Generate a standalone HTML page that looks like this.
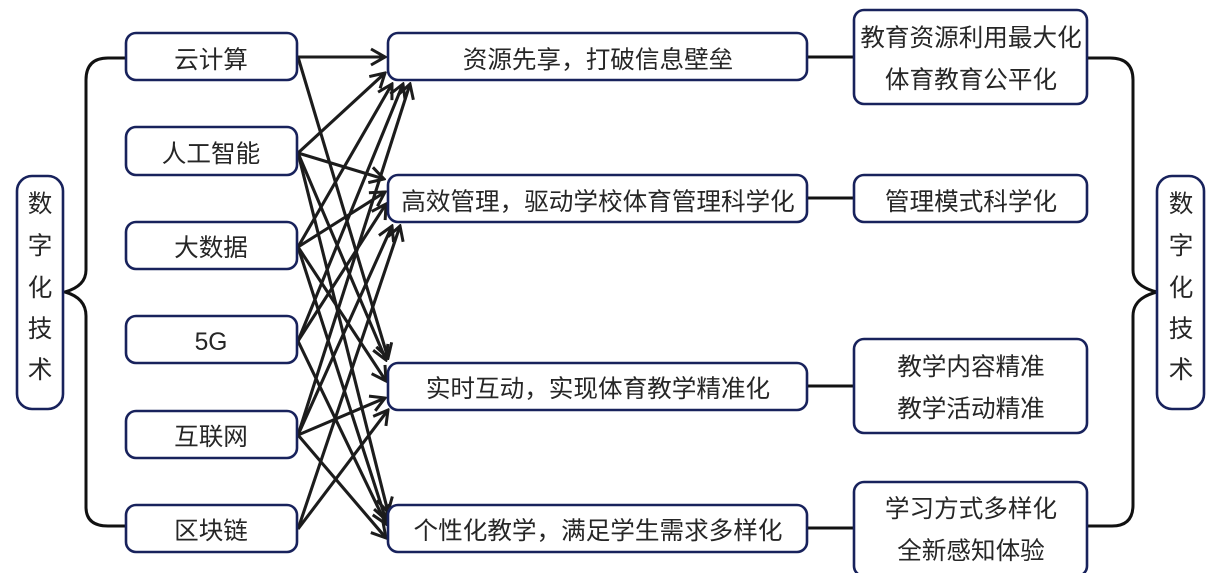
<!DOCTYPE html>
<html lang="zh">
<head>
<meta charset="utf-8">
<style>
html,body{margin:0;padding:0;background:#fff;width:1212px;height:573px;overflow:hidden}
svg{display:block}
text{font-family:"Liberation Sans","Noto Sans CJK SC",sans-serif;font-size:24.6px;fill:#262626;text-anchor:middle}
.b{fill:#fff;stroke:#18225c;stroke-width:2.6}
.c{fill:none;stroke:#111;stroke-width:3}
.a{stroke:#1c1c1c;stroke-width:3.1;fill:none}
</style>
</head>
<body>
<svg width="1212" height="573" viewBox="0 0 1212 573" xmlns="http://www.w3.org/2000/svg">
<defs>
<marker id="m" viewBox="0 0 20 20" refX="18" refY="10" markerWidth="20" markerHeight="20" markerUnits="userSpaceOnUse" orient="auto">
<path d="M4 2 L18 10 L4 18" fill="none" stroke="#1c1c1c" stroke-width="3"/>
</marker>
</defs>

<!-- brackets -->
<path class="c" d="M126 58 H108 Q86 58 86 80 V270 Q86 286 65 292 Q86 298 86 316 V507 Q86 526 108 526 H126"/>
<path class="c" d="M1087 58 H1110 Q1133 58 1133 80 V270 Q1133 286 1157 292 Q1133 298 1133 316 V505 Q1133 526 1112 526 H1087"/>
<path class="c" d="M807 57H854M807 198H854M807 386H854M807 528H854"/>

<!-- arrows -->
<g class="a">
<line x1="298" y1="57" x2="385" y2="57" marker-end="url(#m)"/>
<line x1="298" y1="57" x2="388" y2="358" marker-end="url(#m)"/>
<line x1="298" y1="153" x2="385" y2="73" marker-end="url(#m)"/>
<line x1="298" y1="153" x2="384" y2="179" marker-end="url(#m)"/>
<line x1="298" y1="153" x2="386" y2="360" marker-end="url(#m)"/>
<line x1="298" y1="153" x2="388" y2="512" marker-end="url(#m)"/>
<line x1="298" y1="247" x2="392" y2="84" marker-end="url(#m)"/>
<line x1="298" y1="247" x2="385" y2="192" marker-end="url(#m)"/>
<line x1="298" y1="247" x2="386" y2="381" marker-end="url(#m)"/>
<line x1="298" y1="247" x2="386" y2="520" marker-end="url(#m)"/>
<line x1="298" y1="341" x2="403" y2="84" marker-end="url(#m)"/>
<line x1="298" y1="341" x2="386" y2="204" marker-end="url(#m)"/>
<line x1="298" y1="341" x2="386" y2="524" marker-end="url(#m)"/>
<line x1="298" y1="435" x2="410" y2="84" marker-end="url(#m)"/>
<line x1="298" y1="435" x2="392" y2="226" marker-end="url(#m)"/>
<line x1="298" y1="435" x2="385" y2="398" marker-end="url(#m)"/>
<line x1="298" y1="435" x2="386" y2="538" marker-end="url(#m)"/>
<line x1="298" y1="529" x2="400" y2="226" marker-end="url(#m)"/>
<line x1="298" y1="529" x2="388" y2="410" marker-end="url(#m)"/>
</g>

<!-- left tall -->
<rect class="b" x="17" y="176" width="46" height="233" rx="15"/>
<text x="40" y="212">数</text><text x="40" y="254">字</text><text x="40" y="296">化</text><text x="40" y="337">技</text><text x="40" y="378">术</text>

<!-- sources -->
<rect class="b" x="126" y="33" width="171" height="47" rx="10"/><text x="211" y="68">云计算</text>
<rect class="b" x="126" y="127" width="171" height="48" rx="10"/><text x="211" y="162">人工智能</text>
<rect class="b" x="126" y="222" width="171" height="47" rx="10"/><text x="211" y="256">大数据</text>
<rect class="b" x="126" y="316" width="171" height="47" rx="10"/><text x="211" y="350">5G</text>
<rect class="b" x="126" y="411" width="171" height="47" rx="10"/><text x="211" y="445">互联网</text>
<rect class="b" x="126" y="505" width="171" height="47" rx="10"/><text x="211" y="539">区块链</text>

<!-- middle -->
<rect class="b" x="388" y="33" width="419" height="47" rx="10"/><text x="598" y="68">资源先享，打破信息壁垒</text>
<rect class="b" x="388" y="175" width="419" height="47" rx="10"/><text x="598" y="210">高效管理，驱动学校体育管理科学化</text>
<rect class="b" x="388" y="363" width="419" height="47" rx="10"/><text x="598" y="397">实时互动，实现体育教学精准化</text>
<rect class="b" x="388" y="505" width="419" height="47" rx="10"/><text x="598" y="539">个性化教学，满足学生需求多样化</text>

<!-- right -->
<rect class="b" x="854" y="10" width="233" height="94" rx="10"/><text x="971" y="46">教育资源利用最大化</text><text x="971" y="88">体育教育公平化</text>
<rect class="b" x="854" y="175" width="233" height="47" rx="10"/><text x="971" y="210">管理模式科学化</text>
<rect class="b" x="854" y="339" width="233" height="94" rx="10"/><text x="971" y="375">教学内容精准</text><text x="971" y="417">教学活动精准</text>
<rect class="b" x="854" y="482" width="233" height="94" rx="10"/><text x="971" y="517">学习方式多样化</text><text x="971" y="559">全新感知体验</text>

<!-- right tall -->
<rect class="b" x="1157" y="176" width="47" height="233" rx="15"/>
<text x="1181" y="212">数</text><text x="1181" y="254">字</text><text x="1181" y="296">化</text><text x="1181" y="337">技</text><text x="1181" y="378">术</text>
</svg>
</body>
</html>
